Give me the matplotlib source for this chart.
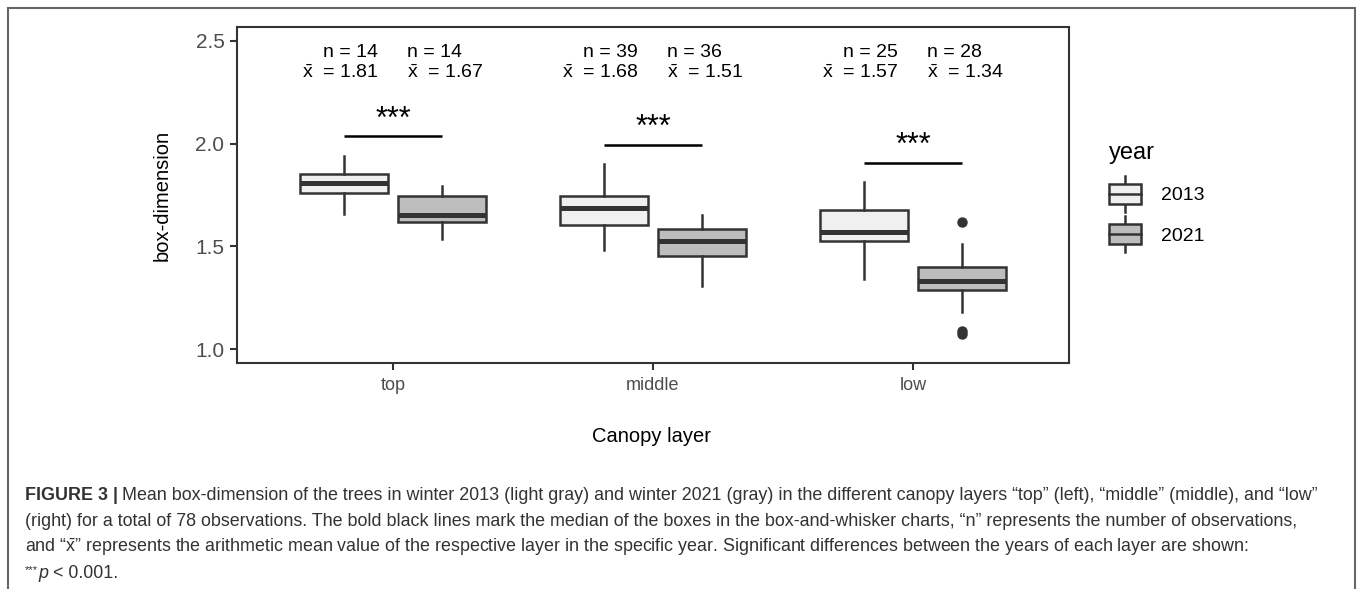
import matplotlib
matplotlib.use("Agg")
import matplotlib.pyplot as plt
from matplotlib.patches import Rectangle
from matplotlib.lines import Line2D
from matplotlib.legend_handler import HandlerBase

plt.rcParams['font.family'] = ['Liberation Sans', 'DejaVu Sans']
plt.rcParams['mathtext.fontset'] = 'custom'
plt.rcParams['mathtext.rm'] = 'Liberation Sans'
plt.rcParams['mathtext.it'] = 'Liberation Sans:italic'

# ---------------- data ----------------
layers = ["top", "middle", "low"]
years = ["2013", "2021"]
fill_colors = ["#F0F0F0", "#BDBDBD"]

whislo_2013 = [1.659, 1.481, 1.340]
q1_2013     = [1.761, 1.602, 1.528]
med_2013    = [1.809, 1.686, 1.568]
q3_2013     = [1.850, 1.746, 1.675]
whishi_2013 = [1.942, 1.901, 1.811]
fliers_2013 = [[], [], []]

whislo_2021 = [1.537, 1.307, 1.181]
q1_2021     = [1.620, 1.455, 1.286]
med_2021    = [1.654, 1.524, 1.332]
q3_2021     = [1.746, 1.586, 1.401]
whishi_2021 = [1.795, 1.652, 1.513]
fliers_2021 = [[], [], [1.618, 1.09, 1.072]]

n_2013 = [14, 39, 25]
n_2021 = [14, 36, 28]
mean_2013 = [1.81, 1.68, 1.57]
mean_2021 = [1.67, 1.51, 1.34]

sig_labels = ["***", "***", "***"]
sig_line_y = [2.035, 1.995, 1.906]

# ---------------- figure ----------------
W, H = 1358, 589
fig = plt.figure(figsize=(W / 100, H / 100), dpi=100)
ax = fig.add_axes([237 / W, 1 - 363 / H, (1069 - 237) / W, (363 - 27) / H])

edge = "#333333"
dodge = 0.1875
bw = 0.34

def stats_for(i, yr):
    if yr == 0:
        return dict(whislo=whislo_2013[i], q1=q1_2013[i], med=med_2013[i],
                    q3=q3_2013[i], whishi=whishi_2013[i], fliers=fliers_2013[i])
    return dict(whislo=whislo_2021[i], q1=q1_2021[i], med=med_2021[i],
                q3=q3_2021[i], whishi=whishi_2021[i], fliers=fliers_2021[i])

for yr in range(2):
    stats = [stats_for(i, yr) for i in range(len(layers))]
    pos = [i + 1 + (dodge if yr else -dodge) for i in range(len(layers))]
    ax.bxp(stats, positions=pos, widths=bw, patch_artist=True,
           showcaps=False, manage_ticks=False,
           boxprops=dict(facecolor=fill_colors[yr], edgecolor=edge, linewidth=1.8),
           medianprops=dict(color=edge, linewidth=3.6, solid_capstyle='butt'),
           whiskerprops=dict(color=edge, linewidth=1.8),
           flierprops=dict(marker='o', markerfacecolor=edge, markeredgecolor=edge,
                           markersize=6.5, linestyle='none'))

xbar = r"$\bar{\mathrm{x}}$"
# annotations
for i in range(len(layers)):
    c1 = i + 1 - dodge
    c2 = i + 1 + dodge
    ax.text(c1 + 0.13, 2.442, f"n = {n_2013[i]}", ha='right', va='center', fontsize=14, color='black')
    ax.text(c1 + 0.13, 2.342, f"{xbar}  = {mean_2013[i]:.2f}", ha='right', va='center', fontsize=14, color='black')
    ax.text(c2 - 0.135, 2.442, f"n = {n_2021[i]}", ha='left', va='center', fontsize=14, color='black')
    ax.text(c2 - 0.135, 2.342, f"{xbar}  = {mean_2021[i]:.2f}", ha='left', va='center', fontsize=14, color='black')
    ax.plot([c1, c2], [sig_line_y[i], sig_line_y[i]], color='black', lw=1.8, solid_capstyle='butt')
    ax.text((c1 + c2) / 2, sig_line_y[i] + 0.01, sig_labels[i], ha='center', va='bottom',
            fontsize=22, color='black')

ax.set_xlim(0.4, 3.6)
ax.set_ylim(0.932, 2.568)
ax.set_xticks(range(1, len(layers) + 1))
ax.set_xticklabels(layers)
ax.set_yticks([1.0, 1.5, 2.0, 2.5])
ax.set_yticklabels(["1.0", "1.5", "2.0", "2.5"])
ax.tick_params(axis='y', labelsize=15, colors=edge, labelcolor="#4D4D4D", length=5, width=1.5, pad=4)
ax.tick_params(axis='x', labelsize=13, colors=edge, labelcolor="#4D4D4D", length=5, width=1.5, pad=5)
for s in ax.spines.values():
    s.set_color(edge)
    s.set_linewidth(1.5)

fig.text(162 / W, 1 - 195 / H, "box-dimension", rotation=90, ha='center', va='center', fontsize=14.5)
fig.text(652 / W, 1 - 436 / H, "Canopy layer", ha='center', va='center', fontsize=14.5)

# legend
class BoxHandler(HandlerBase):
    def __init__(self, fc):
        super().__init__()
        self.fc = fc
    def create_artists(self, legend, orig_handle, xdescent, ydescent, width, height, fontsize, trans):
        cx = width / 2 - xdescent
        bh = height * 1.05
        y0 = height / 2 - ydescent - bh / 2
        rect = Rectangle((-xdescent, y0), width, bh, facecolor=self.fc, edgecolor=edge, lw=1.8, transform=trans)
        med = Line2D([-xdescent, width - xdescent], [y0 + bh / 2] * 2, color=edge, lw=1.8, transform=trans)
        w1 = Line2D([cx, cx], [y0 + bh, y0 + bh + height * 0.45], color=edge, lw=1.8, transform=trans)
        w2 = Line2D([cx, cx], [y0, y0 - height * 0.45], color=edge, lw=1.8, transform=trans)
        return [w1, w2, rect, med]

h1 = Rectangle((0, 0), 1, 1)
h2 = Rectangle((0, 0), 1, 1, hatch='')
leg = fig.legend([h1, h2], years, title="year", loc='upper left',
                 bbox_to_anchor=(1109 / W, 1 - 142 / H), frameon=False,
                 handler_map={h1: BoxHandler(fill_colors[0]), h2: BoxHandler(fill_colors[1])},
                 fontsize=14, title_fontsize=17, handlelength=1.65, handleheight=1.1,
                 labelspacing=1.05, handletextpad=1.0, borderpad=0, borderaxespad=0)
leg._legend_box.align = "left"

# outer frame
fig.add_artist(Rectangle((8 / W, -0.05), (1355 - 8) / W, 1 - 8 / H + 0.05, transform=fig.transFigure,
                         fill=False, edgecolor="#666666", lw=1.5))

# caption
cap_color = "#333333"
cap_font = ['Liberation Sans']
cap_size = 12.9
x0 = 25 / W
fig.canvas.draw()
r = fig.canvas.get_renderer()
t_b = fig.text(x0, 1 - 495 / H, "FIGURE 3 |", fontsize=cap_size, fontweight='bold',
               family=cap_font, color=cap_color, va='center')
bb = t_b.get_window_extent(renderer=r)
fig.text(bb.x1 / W + 4 / W, 1 - 495 / H,
         "Mean box-dimension of the trees in winter 2013 (light gray) and winter 2021 (gray) in the different canopy layers “top” (left), “middle” (middle), and “low”",
         fontsize=cap_size, family=cap_font, color=cap_color, va='center')
fig.text(x0, 1 - 521 / H,
         "(right) for a total of 78 observations. The bold black lines mark the median of the boxes in the box-and-whisker charts, “n” represents the number of observations,",
         fontsize=cap_size, family=cap_font, color=cap_color, va='center')
fig.text(x0, 1 - 547 / H,
         "and “" + r"$\bar{\mathrm{x}}$" + "” represents the arithmetic mean value of the respective layer in the specific year. Significant differences between the years of each layer are shown:",
         fontsize=cap_size, family=cap_font, color=cap_color, va='center')
t_s = fig.text(x0, 1 - 570 / H, "***", fontsize=8, family=cap_font, color=cap_color, va='center')
bb = t_s.get_window_extent(renderer=r)
t_p = fig.text(bb.x1 / W, 1 - 574 / H, "p", fontsize=cap_size, style='italic', family=cap_font,
               color=cap_color, va='center')
bb = t_p.get_window_extent(renderer=r)
fig.text(bb.x1 / W, 1 - 574 / H, " < 0.001.", fontsize=cap_size, family=cap_font, color=cap_color, va='center')

fig.savefig("out.png", dpi=100)
